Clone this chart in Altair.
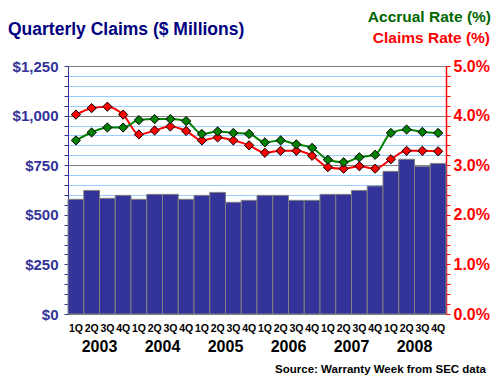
import altair as alt
import pandas as pd

quarters = ["1Q", "2Q", "3Q", "4Q"] * 6
years = ["2003", "2004", "2005", "2006", "2007", "2008"]
claims = [578, 623, 583, 598, 578, 603, 603, 578, 598, 613, 563, 573,
          598, 598, 573, 573, 603, 603, 623, 645, 719, 780, 744, 759]
accrual_rate = [3.50, 3.66, 3.76, 3.76, 3.91, 3.93, 3.93, 3.89, 3.63, 3.68, 3.65, 3.63,
                3.46, 3.50, 3.42, 3.35, 3.11, 3.06, 3.16, 3.21, 3.65, 3.72, 3.67, 3.65]
claims_rate = [4.02, 4.15, 4.18, 4.02, 3.62, 3.70, 3.78, 3.69, 3.50, 3.56, 3.50, 3.40,
               3.25, 3.29, 3.29, 3.19, 2.96, 2.93, 2.98, 2.93, 3.12, 3.29, 3.29, 3.28]

FONT = "Liberation Sans"
W, H = 378, 248

bars_df = pd.DataFrame({"i": list(range(24)), "q": quarters, "claims": claims})
rates_df = pd.DataFrame({
    "i": list(range(24)) * 2,
    "series": ["Claims Rate"] * 24 + ["Accrual Rate"] * 24,
    "rate": claims_rate + accrual_rate,
})
years_df = pd.DataFrame({"k": list(range(6)), "year": years})

xscale = alt.Scale(domain=[0, 24], nice=False, zero=False)

left_vals = list(range(0, 1251, 50))
bars = alt.Chart(bars_df).transform_calculate(
    start="datum.i", end="datum.i + 1"
).mark_bar(color="#333399", stroke="#808080", strokeWidth=1).encode(
    x=alt.X("start:Q", scale=xscale,
            axis=alt.Axis(values=list(range(25)), labels=False, title=None,
                          tickColor="black", tickSize=4, domainColor="#333399",
                          grid=True, gridColor="#808080", gridOpacity=1)),
    x2="end:Q",
    y=alt.Y("claims:Q", scale=alt.Scale(domain=[0, 1250], nice=False),
            axis=alt.Axis(values=left_vals, title=None, orient="left",
                          labelExpr="datum.value % 250 === 0 ? '$' + format(datum.value, ',') : ''",
                          labelOverlap=False, labelColor="#333399", labelFont=FONT,
                          labelFontSize=15, labelFontWeight="bold", labelPadding=6,
                          tickColor="#333399", tickSize=4, domainColor="#333399",
                          grid=True,
                          gridColor={"condition": {"test": "datum.value % 250 === 0", "value": "#808080"},
                                     "value": "#99CCFF"},
                          gridOpacity=1)),
    y2=alt.datum(0),
)

right_vals = [round(k * 0.2, 1) for k in range(26)]
color_scale = alt.Scale(domain=["Claims Rate", "Accrual Rate"], range=["#FF0000", "#008000"])
rate_axis = alt.Axis(values=right_vals, title=None, orient="right",
                     labelExpr="abs(datum.value - round(datum.value)) < 0.001 ? format(datum.value, '.1f') + '%' : ''",
                     labelOverlap=False, labelColor="#FF0000", labelFont=FONT,
                     labelFontSize=16, labelFontWeight="bold", labelPadding=3,
                     tickColor="#FF0000", tickSize=4, domainColor="#FF0000",
                     domainWidth=1.5, grid=False)
rate_scale = alt.Scale(domain=[0, 5], nice=False)

base_rates = alt.Chart(rates_df).transform_calculate(mid="datum.i + 0.5")
lines = base_rates.mark_line(strokeWidth=2, interpolate="monotone").encode(
    x=alt.X("mid:Q", scale=xscale, axis=None),
    y=alt.Y("rate:Q", scale=rate_scale, axis=rate_axis),
    color=alt.Color("series:N", scale=color_scale, legend=None),
    detail="series:N",
)
points = base_rates.mark_point(shape="diamond", filled=True, size=85, stroke="black",
                               strokeWidth=1, opacity=1).encode(
    x=alt.X("mid:Q", scale=xscale, axis=None),
    y=alt.Y("rate:Q", scale=rate_scale, axis=rate_axis),
    fill=alt.Fill("series:N", scale=color_scale, legend=None),
)
rates_layer = alt.layer(lines, points)

qtext = alt.Chart(bars_df).transform_calculate(mid="datum.i + 0.5").mark_text(
    font=FONT, fontSize=10.5, fontWeight="bold", color="black", baseline="middle"
).encode(x=alt.X("mid:Q", scale=xscale, axis=None), y=alt.value(263), text="q:N")

ytext = alt.Chart(years_df).transform_calculate(c="datum.k * 4 + 2").mark_text(
    font=FONT, fontSize=16, fontWeight="bold", color="black", baseline="middle"
).encode(x=alt.X("c:Q", scale=xscale, axis=None), y=alt.value(281), text="year:N")

def label(txt, x, y, color, size, align, baseline="middle"):
    return alt.Chart(pd.DataFrame({"t": [txt]})).mark_text(
        font=FONT, fontSize=size, fontWeight="bold", color=color,
        align=align, baseline=baseline
    ).encode(x=alt.value(x), y=alt.value(y), text="t:N")

title_left = label("Quarterly Claims ($ Millions)", -60, -36, "#000080", 17.5, "left")
title_acc = label("Accrual Rate (%)", 423, -44, "#006600", 15.5, "right", "alphabetic")
title_clm = label("Claims Rate (%)", 422, -23, "#FF0000", 15.5, "right", "alphabetic")
source = label("Source: Warranty Week from SEC data", 418, 304, "black", 11.5, "right")

chart = alt.layer(
    bars, rates_layer, qtext, ytext, title_left, title_acc, title_clm, source
).resolve_scale(y="independent").properties(
    width=W, height=H,
    autosize=alt.AutoSizeParams(type="none"),
    padding={"left": 60, "top": 58, "right": 46, "bottom": 63},
    background="white",
).configure_view(stroke=None)

chart.save("out.html", embed_options={"renderer": "svg", "actions": False})
